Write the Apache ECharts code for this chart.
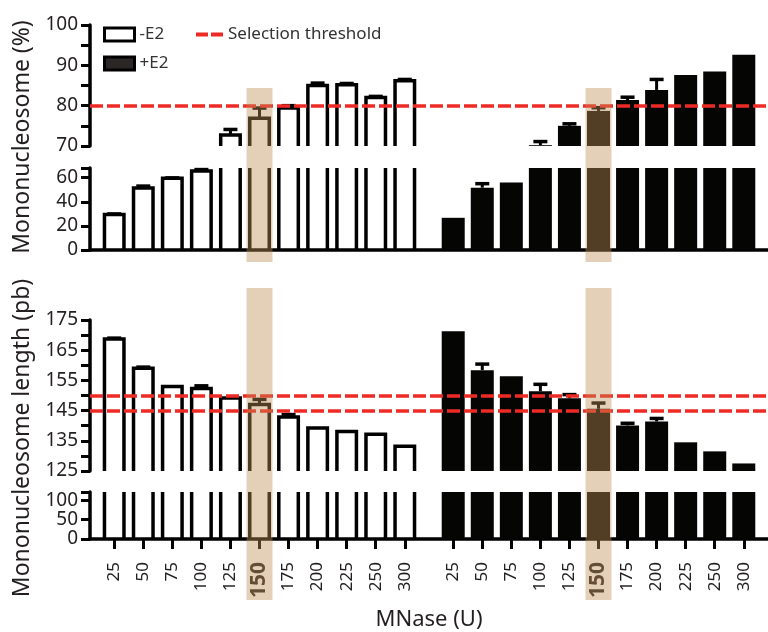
<!DOCTYPE html>
<html>
<head>
<meta charset="utf-8">
<script src="https://cdn.jsdelivr.net/npm/echarts@6/dist/echarts.min.js"></script>
<style>
html, body { margin: 0; padding: 0; background: #fff; }
#charts { width: 768px; height: 632px; }
</style>
</head>
<body>
<div id="charts"></div>
<script>
var doses = ['25', '50', '75', '100', '125', '150', '175', '200', '225', '250', '300'];
var highlightDose = '150';

// Mononucleosome (%)
var pctMinus = [29.5, 51.5, 59.5, 65.5, 72.7, 76.9, 79.4, 85, 85.2, 82, 86.2];
var pctMinusErr = [0.4, 1.5, 0.3, 1.2, 1.4, 2.5, 0.6, 0.6, 0.3, 0.3, 0.3];
var pctPlus = [26.7, 51.7, 56, 70.2, 75, 78.7, 81.4, 83.9, 87.6, 88.5, 92.6];
var pctPlusErr = [0, 3.3, 0, 0.9, 0.5, 0.8, 0.7, 2.6, 0, 0, 0];
var pctThreshold = [80];

// Mononucleosome length (pb)
var lenMinus = [168.7, 159, 153, 152.3, 149.2, 147, 142.9, 139.2, 138.1, 137.2, 133.2];
var lenMinusErr = [0.3, 0.4, 0, 0.9, 0, 1.7, 0.8, 0, 0, 0, 0];
var lenPlus = [171.3, 158.4, 156.4, 151.4, 149.1, 145.6, 140.1, 141.4, 134.5, 131.5, 127.5];
var lenPlusErr = [0, 2, 0, 2.3, 1.2, 1.9, 0.7, 1, 0, 0, 0];
var lenThreshold = [145, 150];

var FONT = 'Noto Sans';
var RED = '#ee2a24';
var BAR_W = 23;
var LINE_W = 3.5;

// x slots: -E2 group and +E2 group with a gap in between
var slotCount = 70, minusStart = 2, plusStart = 37, step = 3;
var slots = [], slotLabel = [];
for (var s = 0; s < slotCount; s++) {
    slots.push('s' + s);
    slotLabel.push('');
}
doses.forEach(function (d, i) {
    slotLabel[minusStart + step * i] = d;
    slotLabel[plusStart + step * i] = d;
});

function pairs(values, start) {
    return values.map(function (v, i) { return [start + step * i, v]; });
}
function triples(values, errs, start) {
    return values.map(function (v, i) { return [start + step * i, v, errs[i]]; });
}

var chart = echarts.init(document.getElementById('charts'));

// open (white) bar drawn as three sides, cut by the grid like a broken axis
function openBar(params, api) {
    var cs = params.coordSys;
    var bottom = cs.y + cs.height;
    var x = api.coord([api.value(0), 0])[0];
    var yv = api.coord([api.value(0), api.value(1)])[1];
    if (yv >= bottom - 0.5) return null;
    var l = x - BAR_W / 2 + LINE_W / 2, r = x + BAR_W / 2 - LINE_W / 2;
    var style = { stroke: '#000', lineWidth: LINE_W, fill: null, lineJoin: 'miter' };
    if (yv < cs.y) {
        return {
            type: 'group', children: [
                { type: 'line', shape: { x1: l, y1: bottom, x2: l, y2: cs.y }, style: style },
                { type: 'line', shape: { x1: r, y1: bottom, x2: r, y2: cs.y }, style: style }
            ]
        };
    }
    return {
        type: 'polyline',
        shape: { points: [[l, bottom], [l, yv], [r, yv], [r, bottom]] },
        style: style
    };
}

function errBar(params, api) {
    var cs = params.coordSys;
    var bottom = cs.y + cs.height;
    var e = api.value(2);
    if (!e) return null;
    var x = api.coord([api.value(0), 0])[0];
    var yv = api.coord([api.value(0), api.value(1)])[1];
    var ye = api.coord([api.value(0), api.value(1) + e])[1];
    if (ye < cs.y || ye > bottom) return null;
    return {
        type: 'group', children: [
            { type: 'line', shape: { x1: x, y1: Math.min(yv, bottom), x2: x, y2: ye }, style: { stroke: '#000', lineWidth: 3 } },
            { type: 'line', shape: { x1: x - 7, y1: ye, x2: x + 7, y2: ye }, style: { stroke: '#000', lineWidth: LINE_W } }
        ]
    };
}

function yAxis(grid, min, max, interval, showLabel) {
    return {
        type: 'value', gridIndex: grid, min: min, max: max, interval: interval,
        splitLine: { show: false },
        axisLine: { show: true, lineStyle: { color: '#000', width: LINE_W } },
        axisTick: { show: true, length: 9, lineStyle: { color: '#000', width: 3 } },
        axisLabel: {
            fontSize: 19, fontFamily: FONT, color: '#231f20', margin: 12,
            formatter: function (v) { return showLabel(v) ? String(v) : ''; }
        }
    };
}

function xAxis(grid, withLine, withLabels) {
    var keep = function (idx) { return slotLabel[idx] !== ''; };
    return {
        type: 'category', gridIndex: grid, data: slots, boundaryGap: true,
        show: withLine,
        axisLine: { show: withLine, lineStyle: { color: '#000', width: LINE_W } },
        axisTick: {
            show: withLabels, alignWithLabel: true, interval: keep, length: 10,
            lineStyle: { color: '#000', width: 3 }
        },
        axisLabel: {
            show: withLabels, interval: keep, rotate: 90, margin: 23,
            fontSize: 17, fontFamily: FONT, color: '#231f20',
            formatter: function (v, idx) {
                var t = slotLabel[idx];
                return t === highlightDose ? '{hl|' + t + '}' : t;
            },
            rich: { hl: { fontSize: 21, fontWeight: 'bold', fontFamily: FONT, color: '#231f20' } }
        },
        name: withLabels ? 'MNase (U)' : '',
        nameLocation: 'middle', nameGap: 70,
        nameTextStyle: { fontSize: 22, fontFamily: FONT, color: '#231f20' }
    };
}

function seriesFor(grid, minus, minusErr, plus, plusErr) {
    return [
        {
            name: '-E2', type: 'custom', xAxisIndex: grid, yAxisIndex: grid,
            renderItem: openBar, encode: { x: 0, y: 1 }, data: pairs(minus, minusStart), z: 2
        },
        {
            name: '+E2', type: 'bar', xAxisIndex: grid, yAxisIndex: grid,
            barWidth: BAR_W, itemStyle: { color: '#050503' },
            data: pairs(plus, plusStart), z: 2
        },
        {
            name: 'err', type: 'custom', xAxisIndex: grid, yAxisIndex: grid,
            renderItem: errBar, encode: { x: 0, y: 1 },
            data: triples(minus, minusErr, minusStart).concat(triples(plus, plusErr, plusStart)), z: 3
        }
    ];
}

function threshold(grid, values) {
    var ls = { color: RED, type: [13, 4], width: LINE_W };
    return {
        name: 'Selection threshold', type: 'line', xAxisIndex: grid, yAxisIndex: grid,
        data: [], symbol: 'none', lineStyle: ls, itemStyle: { color: RED }, z: 4,
        markLine: {
            silent: true, symbol: ['none', 'none'], label: { show: false },
            lineStyle: ls, emphasis: { disabled: true },
            data: values.map(function (v) { return { yAxis: v }; })
        }
    };
}

var option = {
    animation: false,
    backgroundColor: '#fff',
    textStyle: { fontFamily: FONT },
    grid: [
        { left: 90, width: 681, top: 25, height: 121 },
        { left: 90, width: 681, top: 168, height: 82 },
        { left: 90, width: 681, top: 320, height: 151 },
        { left: 90, width: 681, top: 492, height: 55 }
    ],
    xAxis: [xAxis(0, false, false), xAxis(1, true, false), xAxis(2, false, false), xAxis(3, true, true)],
    yAxis: [
        yAxis(0, 70, 100, 5, function (v) { return v % 10 === 0; }),
        yAxis(1, 0, 68, 20, function (v) { return v % 20 === 0; }),
        yAxis(2, 125, 175, 5, function (v) { return (v - 125) % 10 === 0; }),
        yAxis(3, 0, 122, 50, function (v) { return v % 50 === 0; })
    ],
    legend: [
        {
            orient: 'vertical', left: 103, top: 26, padding: 0,
            itemWidth: 30, itemHeight: 13, itemGap: 12,
            textStyle: { fontSize: 17, fontFamily: FONT, color: '#333' },
            data: [
                { name: '-E2', icon: 'rect', itemStyle: { color: '#fff', borderColor: '#000', borderWidth: 3 } },
                { name: '+E2', icon: 'rect', itemStyle: { color: '#2b2727', borderColor: '#000', borderWidth: 3 } }
            ],
            selectedMode: false
        },
        {
            left: 196, top: 26, padding: 0, itemWidth: 27, itemHeight: 4, itemGap: 8,
            textStyle: { fontSize: 17, fontFamily: FONT, color: '#333' },
            data: [{
                name: 'Selection threshold',
                icon: 'path://M0,0h12v4h-12zM15,0h12v4h-12z',
                itemStyle: { color: RED, borderWidth: 0 }
            }],
            selectedMode: false
        }
    ],
    series: []
        .concat(seriesFor(0, pctMinus, pctMinusErr, pctPlus, pctPlusErr))
        .concat(seriesFor(1, pctMinus, pctMinusErr, pctPlus, pctPlusErr))
        .concat(seriesFor(2, lenMinus, lenMinusErr, lenPlus, lenPlusErr))
        .concat(seriesFor(3, lenMinus, lenMinusErr, lenPlus, lenPlusErr))
        .concat([threshold(0, pctThreshold), threshold(2, lenThreshold)])
};

chart.setOption(option);

// highlight bands over the selected dose, plus the rotated y-axis names
var hi = doses.indexOf(highlightDose);
var graphics = [];
[minusStart + step * hi, plusStart + step * hi].forEach(function (slot) {
    var cx = chart.convertToPixel({ xAxisIndex: 3 }, slots[slot]);
    [[88, 262], [288, 600]].forEach(function (span) {
        graphics.push({
            type: 'rect', silent: true, z: 100,
            shape: { x: cx - 13, y: span[0], width: 26, height: span[1] - span[0] },
            style: { fill: 'rgba(190,140,85,0.42)' }
        });
    });
});
graphics.push({
    type: 'text', x: 22, y: 137, rotation: Math.PI / 2,
    style: { text: 'Mononucleosome (%)', fontSize: 23, fontFamily: FONT, fill: '#231f20', align: 'center', verticalAlign: 'middle' }
});
graphics.push({
    type: 'text', x: 22, y: 438, rotation: Math.PI / 2,
    style: { text: 'Mononucleosome length (pb)', fontSize: 23, fontFamily: FONT, fill: '#231f20', align: 'center', verticalAlign: 'middle' }
});
chart.setOption({ graphic: graphics });
</script>
</body>
</html>
